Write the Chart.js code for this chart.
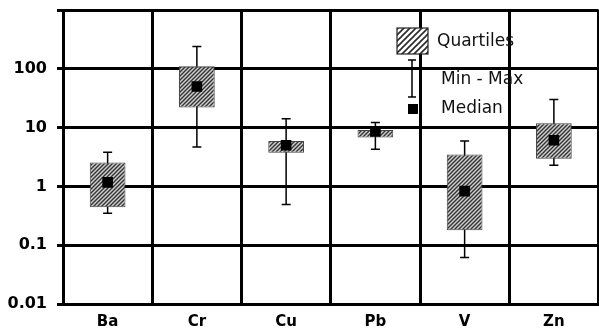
<!DOCTYPE html>
<html>
<head>
<meta charset="utf-8">
<script src="https://cdn.jsdelivr.net/npm/chart.js@4"></script>
<style>
  html, body { margin: 0; padding: 0; background: #fff; overflow: hidden; }
  #wrap { width: 606px; height: 333px; }
</style>
</head>
<body>
<div id="wrap"><canvas id="boxChart" width="606" height="333"></canvas></div>
<script>
// values (log scale)
const elements = ["Ba", "Cr", "Cu", "Pb", "V", "Zn"];
const minVals = [0.35, 4.7, 0.49, 4.3, 0.062, 2.3];
const q1Vals = [0.44, 22, 3.75, 6.8, 0.18, 2.95];
const medianVals = [1.17, 50, 5.0, 8.6, 0.83, 6.1];
const q3Vals = [2.55, 110, 5.9, 9.1, 3.5, 11.8];
const maxVals = [3.8, 240, 14.2, 12.2, 5.9, 30];
const yTickValues = [0.01, 0.1, 1, 10, 100, 1000];
const yTickLabels = ["0.01", "0.1", "1", "10", "100", ""];

function hatch(size, bg, fg, lw) {
  const c = document.createElement("canvas");
  c.width = c.height = size;
  const p = c.getContext("2d");
  p.fillStyle = bg;
  p.fillRect(0, 0, size, size);
  p.strokeStyle = fg;
  p.lineWidth = lw;
  p.beginPath();
  p.moveTo(-1, size + 1); p.lineTo(size + 1, -1);
  p.moveTo(-1, 1); p.lineTo(1, -1);
  p.moveTo(size - 1, size + 1); p.lineTo(size + 1, size - 1);
  p.stroke();
  return p.createPattern(c, "repeat");
}

const ctx = document.getElementById("boxChart").getContext("2d");
const boxFill = hatch(4, "#cfcfcf", "#333", 1.4);
const legendFill = hatch(6, "#ffffff", "#2a2a2a", 1.6);

// whiskers drawn behind the boxes
const whiskers = {
  id: "whiskers",
  beforeDatasetsDraw(chart) {
    const c = chart.ctx, x = chart.scales.x, y = chart.scales.y;
    c.save();
    c.strokeStyle = "#000";
    c.lineWidth = 1.5;
    elements.forEach((e, i) => {
      const px = x.getPixelForValue(i);
      const top = y.getPixelForValue(maxVals[i]);
      const bot = y.getPixelForValue(minVals[i]);
      c.beginPath();
      c.moveTo(px, top); c.lineTo(px, bot);
      c.moveTo(px - 4.5, top); c.lineTo(px + 4.5, top);
      c.moveTo(px - 4.5, bot); c.lineTo(px + 4.5, bot);
      c.stroke();
    });
    c.restore();
  },
};

// legend in the upper middle of the plot
const boxLegend = {
  id: "boxLegend",
  afterDatasetsDraw(chart) {
    const c = chart.ctx;
    c.save();
    c.fillStyle = legendFill;
    c.fillRect(397, 28, 31, 26);
    c.strokeStyle = "#222";
    c.lineWidth = 1.2;
    c.strokeRect(397, 28, 31, 26);
    c.strokeStyle = "#000";
    c.lineWidth = 1.5;
    c.beginPath();
    c.moveTo(412, 60); c.lineTo(412, 97);
    c.moveTo(408, 60); c.lineTo(416, 60);
    c.moveTo(408, 97); c.lineTo(416, 97);
    c.stroke();
    c.fillStyle = "#000";
    c.fillRect(408, 104, 10, 10);
    c.font = "17px 'DejaVu Sans'";
    c.textBaseline = "middle";
    c.fillStyle = "#111";
    c.fillText("Quartiles", 437, 42);
    c.fillText("Min - Max", 441, 80);
    c.fillText("Median", 441, 109);
    c.restore();
  },
};

new Chart(ctx, {
  data: {
    labels: elements,
    datasets: [
      {
        type: "line",
        label: "Median",
        data: medianVals,
        showLine: false,
        pointStyle: "rect",
        pointRadius: 7.5,
        pointBackgroundColor: "#000",
        pointBorderWidth: 0,
        order: 0,
      },
      {
        type: "bar",
        label: "Quartiles",
        data: q1Vals.map((q, i) => [q, q3Vals[i]]),
        backgroundColor: boxFill,
        borderColor: "#444",
        borderWidth: 1,
        borderSkipped: false,
        barPercentage: 0.4,
        categoryPercentage: 1,
        order: 1,
      },
    ],
  },
  options: {
    responsive: false,
    animation: false,
    layout: { padding: { top: 10, right: 4, left: 0, bottom: 0 } },
    plugins: { legend: { display: false }, tooltip: { enabled: false } },
    scales: {
      x: {
        offset: true,
        grid: { color: "#000", lineWidth: 3, offset: true, drawTicks: false },
        border: { color: "#000", width: 3 },
        ticks: { color: "#000", font: { family: "DejaVu Sans", size: 15, weight: "bold" }, padding: 9 },
        afterFit: (s) => { s.height = 29; },
      },
      y: {
        type: "logarithmic",
        min: 0.01,
        max: 1000,
        afterBuildTicks: (s) => { s.ticks = yTickValues.map((v) => ({ value: v })); },
        grid: { color: "#000", lineWidth: 3, tickLength: 6 },
        border: { color: "#000", width: 3 },
        ticks: {
          color: "#000",
          font: { family: "DejaVu Sans", size: 16, weight: "bold" },
          padding: 10,
          callback: (v, i) => yTickLabels[i],
        },
        afterFit: (s) => { s.width = 63; s.paddingTop = 0; s.paddingBottom = 0; },
      },
    },
  },
  plugins: [whiskers, boxLegend],
});
</script>
</body>
</html>
